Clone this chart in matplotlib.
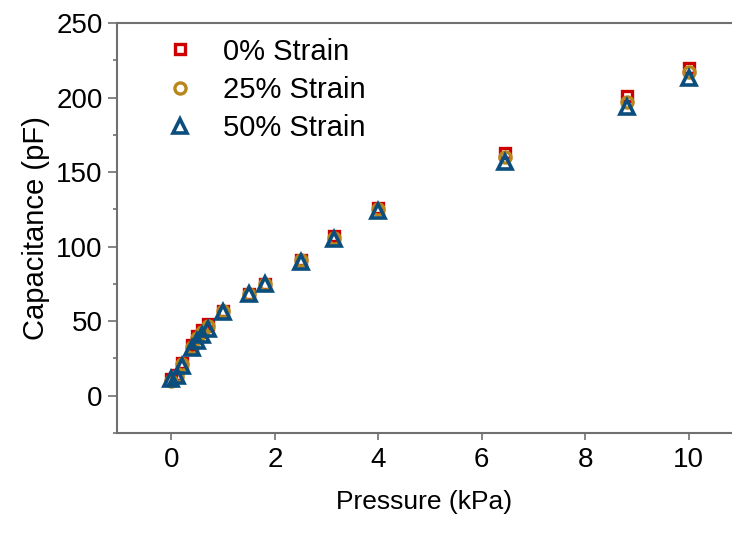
import numpy as np
import matplotlib.pyplot as plt
from matplotlib.ticker import MultipleLocator

pressure = [0, 0.1, 0.2, 0.4, 0.5, 0.6, 0.7, 1.0, 1.5, 1.8, 2.5, 3.15, 4.0, 6.45, 8.8, 10.0]
cap_0 = [11, 14, 22, 34, 40, 44, 48, 57, 68, 75, 91, 107, 126, 163, 201, 220]
cap_25 = [10, 13, 21, 33, 39, 43, 47, 57, 68, 75, 91, 106, 125, 160, 197, 217]
cap_50 = [11, 13, 20, 32, 37, 41, 45, 56, 68, 75, 90, 105, 124, 157, 194, 213]
labels = ['0% Strain', '25% Strain', '50% Strain']

plt.rcParams['font.family'] = ['Liberation Sans', 'DejaVu Sans']
fig = plt.figure(figsize=(7.32, 5.33), dpi=100)
ax = fig.add_axes([0.16, 0.1876, 0.8386, 0.7692])

ax.plot(pressure, cap_0, 's', ms=7.5, mfc='none', mec='#cc0000', mew=2.4, label=labels[0])
ax.plot(pressure, cap_25, 'o', ms=8, mfc='none', mec='#b8861a', mew=2.4, label=labels[1])
ax.plot(pressure, cap_50, '^', ms=10, mfc='none', mec='#0b4d7c', mew=2.6, label=labels[2])

ax.set_xlim(-1.05, 10.82)
ax.set_ylim(-25, 250)
ax.xaxis.set_major_locator(MultipleLocator(2))
ax.yaxis.set_major_locator(MultipleLocator(50))
ax.yaxis.set_minor_locator(MultipleLocator(25))
ax.tick_params(which='both', direction='out', color='#707070', width=1.2, labelsize=20)
ax.tick_params(axis='y', which='major', length=6.5, pad=4)
ax.tick_params(axis='x', which='major', length=5, pad=5)
ax.tick_params(which='minor', length=3)
for s in ['left', 'bottom', 'top']:
    ax.spines[s].set_color('#707070')
    ax.spines[s].set_linewidth(1.5)
ax.spines['right'].set_visible(False)

ax.set_xlabel('Pressure (kPa)', fontsize=19, labelpad=12)
ax.set_ylabel('Capacitance (pF)', fontsize=21, labelpad=4)
ax.legend(loc='upper left', frameon=False, fontsize=21, handletextpad=0.45,
          labelspacing=0.35, borderaxespad=0.2, bbox_to_anchor=(0.027, 1.007))

fig.savefig('out.png', dpi=100)
